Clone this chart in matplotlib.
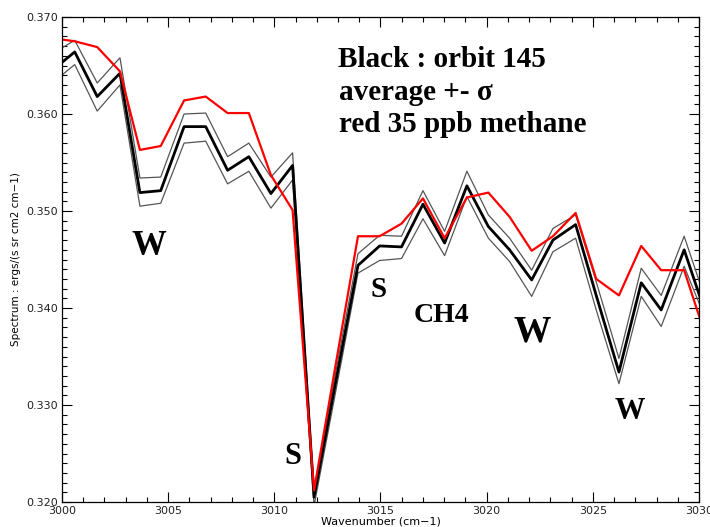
import numpy as np
import matplotlib.pyplot as plt
from matplotlib.ticker import MultipleLocator

# Spectral grid (cm-1) and values
wavenumber = [2999.6, 3000.6, 3001.66, 3002.73, 3003.67, 3004.65, 3005.75, 3006.77,
              3007.8, 3008.8, 3009.84, 3010.86, 3011.87, 3012.9, 3013.94, 3014.96,
              3015.99, 3017.0, 3018.02, 3019.07, 3020.08, 3021.08, 3022.12, 3023.12,
              3024.19, 3025.16, 3026.23, 3027.28, 3028.22, 3029.3, 3030.3]

avg = [0.3646, 0.3664, 0.3618, 0.3642, 0.3519, 0.3521, 0.3587, 0.3587,
       0.3542, 0.3556, 0.3518, 0.3547, 0.3205, 0.3325, 0.3444, 0.3464,
       0.3463, 0.3507, 0.3467, 0.3526, 0.3484, 0.3460, 0.3429, 0.3470,
       0.3486, 0.3413, 0.3334, 0.3426, 0.3398, 0.3460, 0.3395]

upper = [0.3663, 0.3676, 0.3632, 0.3658, 0.3534, 0.3535, 0.3600, 0.3601,
         0.3556, 0.3570, 0.3535, 0.3560, 0.3212, 0.3335, 0.3456, 0.3475,
         0.3474, 0.3521, 0.3479, 0.3541, 0.3496, 0.3472, 0.3439, 0.3482,
         0.3496, 0.3427, 0.3348, 0.3441, 0.3413, 0.3474, 0.3409]

lower = [0.3633, 0.3651, 0.3603, 0.3630, 0.3505, 0.3508, 0.3570, 0.3572,
         0.3528, 0.3541, 0.3503, 0.3532, 0.3196, 0.3315, 0.3436, 0.3449,
         0.3451, 0.3492, 0.3454, 0.3515, 0.3472, 0.3448, 0.3412, 0.3458,
         0.3472, 0.3398, 0.3322, 0.3412, 0.3381, 0.3443, 0.3389]

methane = [0.3678, 0.3675, 0.3669, 0.3644, 0.3563, 0.3567, 0.3614, 0.3618,
           0.3601, 0.3601, 0.3537, 0.3501, 0.3212, 0.3343, 0.3474, 0.3474,
           0.3487, 0.3513, 0.3472, 0.3514, 0.3519, 0.3494, 0.3459, 0.3474,
           0.3498, 0.3430, 0.3413, 0.3464, 0.3439, 0.3439, 0.3372]

# band labels: text, x, baseline y, size
labels = [("W", 3004.07, 0.3455, 25),
          ("S", 3010.88, 0.3239, 22),
          ("S", 3014.92, 0.3411, 21),
          ("CH4", 3017.89, 0.3386, 20),
          ("W", 3022.16, 0.3365, 27),
          ("W", 3026.75, 0.3286, 22)]

fig = plt.figure(figsize=(7.1, 5.27), dpi=100)
ax = fig.add_axes([0.0873, 0.0474, 0.8972, 0.9203])

ax.plot(wavenumber, upper, color='#555555', lw=0.9)
ax.plot(wavenumber, lower, color='#555555', lw=0.9)
ax.plot(wavenumber, avg, color='black', lw=2.0)
ax.plot(wavenumber, methane, color='red', lw=1.6)

ax.set_xlim(3000, 3030)
ax.set_ylim(0.320, 0.370)
ax.xaxis.set_major_locator(MultipleLocator(5))
ax.xaxis.set_minor_locator(MultipleLocator(1))
ax.yaxis.set_major_locator(MultipleLocator(0.010))
ax.yaxis.set_minor_locator(MultipleLocator(0.001))
ax.yaxis.set_major_formatter(plt.FormatStrFormatter('%.3f'))
ax.tick_params(which='both', direction='in', top=True, right=True,
               labelsize=8, labelcolor='#222222', width=0.8)
ax.tick_params(which='major', length=7, pad=3)
ax.tick_params(which='minor', length=3.5)
for s in ax.spines.values():
    s.set_linewidth(0.9)

ax.set_xlabel('Wavenumber (cm\u22121)', fontsize=8, labelpad=0)
ax.set_ylabel('Spectrum : ergs/(s sr cm2 cm\u22121)', fontsize=7.5, labelpad=4)

serif = ['Liberation Serif', 'DejaVu Serif']
for txt, x, y, size in labels:
    ax.text(x, y, txt, ha='center', va='baseline', fontsize=size,
            fontweight='bold', family=serif)

ax.text(3013.0, 0.36485, 'Black : orbit 145', fontsize=21, fontweight='bold', family=serif)
ax.text(3013.05, 0.36144, 'average +- \u03c3', fontsize=21, fontweight='bold', family=serif)
ax.text(3013.05, 0.35814, 'red 35 ppb methane', fontsize=21, fontweight='bold', family=serif)

plt.savefig('out.png', dpi=100)
